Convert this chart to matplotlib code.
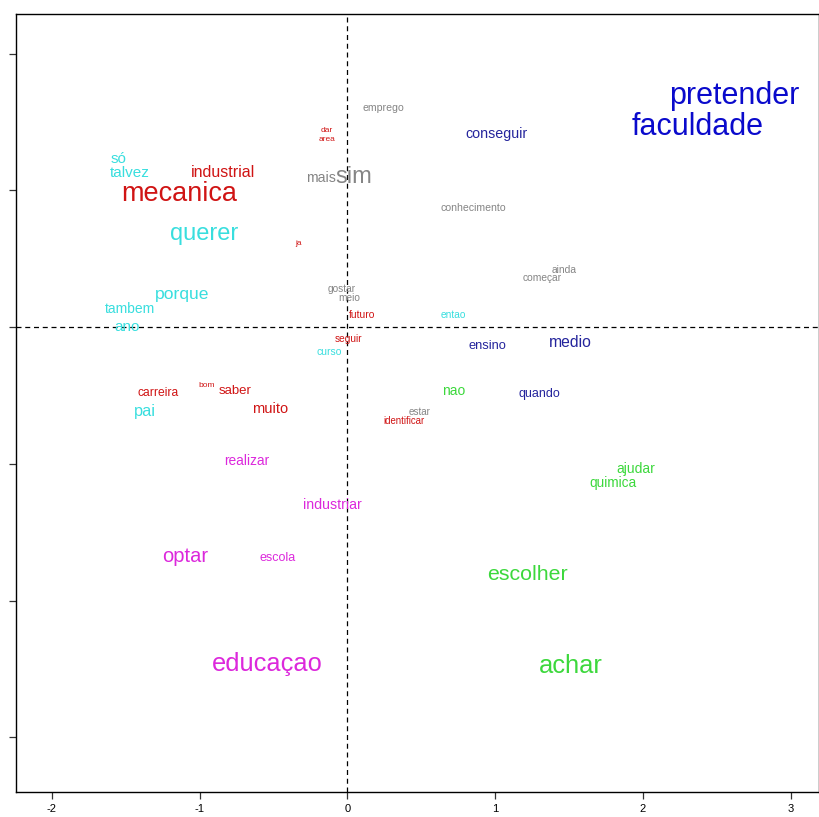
import matplotlib.pyplot as plt

plt.rcParams['font.family'] = ['Liberation Sans', 'DejaVu Sans']

# words, coordinates on the two factors, text size (pt) and cluster
words = ['pretender', 'faculdade', 'conseguir', 'emprego', 'dar', 'area',
         'industrial', 'só', 'talvez', 'mecanica', 'mais', 'sim', 'querer',
         'ja', 'conhecimento', 'ainda', 'começar', 'porque', 'tambem', 'ano',
         'gostar', 'meio', 'futuro', 'entao', 'seguir', 'curso', 'ensino',
         'medio', 'carreira', 'bom', 'saber', 'pai', 'muito', 'nao', 'quando',
         'estar', 'identificar', 'realizar', 'ajudar', 'quimica', 'industriar',
         'optar', 'escola', 'escolher', 'educaçao', 'achar']
dim1 = [2.62, 2.37, 1.01, 0.24, -0.14, -0.14,
        -0.84, -1.55, -1.47, -1.14, -0.18, 0.04, -0.97,
        -0.33, 0.85, 1.47, 1.32, -1.12, -1.47, -1.49,
        -0.04, 0.01, 0.10, 0.72, 0.01, -0.12, 0.95,
        1.51, -1.28, -0.95, -0.76, -1.37, -0.52, 0.72, 1.30,
        0.49, 0.38, -0.68, 1.95, 1.80, -0.10,
        -1.10, -0.47, 1.22, -0.54, 1.51]
dim2 = [1.69, 1.46, 1.41, 1.60, 1.44, 1.37,
        1.13, 1.23, 1.13, 0.97, 1.09, 1.10, 0.68,
        0.61, 0.87, 0.42, 0.36, 0.24, 0.13, 0.00,
        0.28, 0.21, 0.09, 0.09, -0.09, -0.18, -0.14,
        -0.11, -0.48, -0.43, -0.47, -0.62, -0.60, -0.47, -0.49,
        -0.62, -0.69, -0.98, -1.04, -1.14, -1.30,
        -1.68, -1.69, -1.81, -2.465, -2.475]
sizes = [22, 22, 10.3, 7.6, 6, 6,
         11.5, 11, 11, 19.5, 10.2, 17, 17,
         6, 7.6, 7.4, 7.4, 12.6, 10, 11,
         7.3, 7.3, 7.5, 7.3, 7.3, 7.5, 9.3,
         11.3, 8.7, 6, 9.5, 11.8, 10.5, 10, 9,
         7.1, 6.9, 9.9, 10, 9.8, 10.2,
         14.5, 9, 15.4, 18.3, 18.4]
clusters = ['blue', 'blue', 'navy', 'gray', 'red', 'red',
            'red', 'cyan', 'cyan', 'red', 'gray', 'gray', 'cyan',
            'red', 'gray', 'gray', 'gray', 'cyan', 'cyan', 'cyan',
            'gray', 'gray', 'red', 'cyan', 'red', 'cyan', 'navy',
            'navy', 'red', 'red', 'red', 'cyan', 'red', 'green', 'navy',
            'gray', 'red', 'magenta', 'green', 'green', 'magenta',
            'magenta', 'magenta', 'green', 'magenta', 'green']

palette = {'blue': '#0a0acc', 'navy': '#24249c', 'gray': '#858585',
           'red': '#d01414', 'cyan': '#38dede', 'green': '#3cd83c',
           'magenta': '#dc28dc'}

fig = plt.figure(figsize=(8.2, 8.17), dpi=100)
ax = fig.add_axes([0.0195, 0.0306, 0.979, 0.9523])

for w, x, y, s, c in zip(words, dim1, dim2, sizes, clusters):
    ax.text(x, y, w, fontsize=s, color=palette[c], ha='center', va='center')

ax.axhline(0, color='black', linestyle=(0, (4, 3)), linewidth=0.9)
ax.axvline(0, color='black', linestyle=(0, (4, 3)), linewidth=0.9)

ax.set_xlim(-2.243, 3.19)
ax.set_ylim(-3.40, 2.29)
ax.set_xticks([-2, -1, 0, 1, 2, 3])
ax.set_xticklabels(['-2', '-1', '0', '1', '2', '3'], fontsize=8)
ax.set_yticks([-3, -2, -1, 0, 1, 2])
ax.set_yticklabels([])
ax.tick_params(length=5, width=0.9, color='#333333')
ax.tick_params(axis='x', pad=4)
for sp in ax.spines.values():
    sp.set_linewidth(1.0)

fig.savefig('out.png', dpi=100)
